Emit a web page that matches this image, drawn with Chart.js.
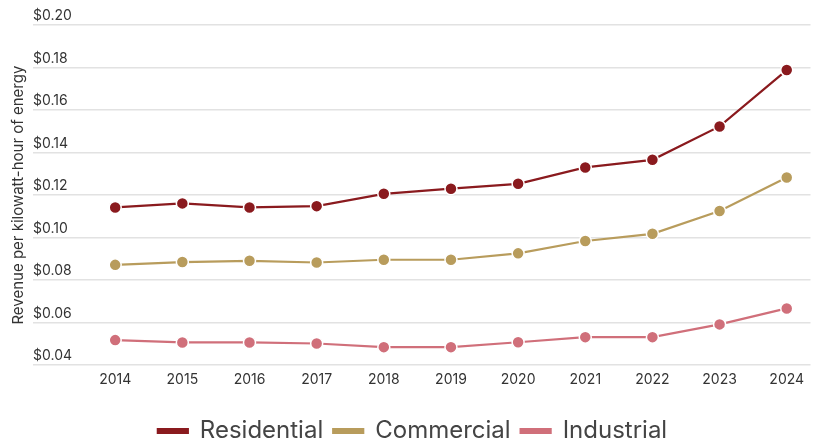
<!DOCTYPE html>
<html>
<head>
<meta charset="utf-8">
<script src="https://cdn.jsdelivr.net/npm/chart.js@4.4.1/dist/chart.umd.min.js"></script>
<style>
  html, body { margin: 0; padding: 0; background: #fff; }
  #wrap { width: 818px; height: 440px; }
</style>
</head>
<body>
<div id="wrap"><canvas id="lineChart" width="818" height="440"></canvas></div>
<script>
const years = [2014, 2015, 2016, 2017, 2018, 2019, 2020, 2021, 2022, 2023, 2024];
const residential = [0.1142, 0.1161, 0.1142, 0.1148, 0.1206, 0.1230, 0.1253, 0.1330, 0.1366, 0.1523, 0.1788];
const commercial = [0.0872, 0.0885, 0.0891, 0.0883, 0.0896, 0.0896, 0.0926, 0.0984, 0.1018, 0.1125, 0.1283];
const industrial = [0.0518, 0.0507, 0.0507, 0.0502, 0.0485, 0.0485, 0.0508, 0.0532, 0.0532, 0.0592, 0.0667];

const FONT = 'Inter, "Noto Sans", sans-serif';

function series(label, values, color) {
  return {
    label: label,
    data: values.map((v, i) => ({ x: years[i], y: v })),
    borderColor: color,
    backgroundColor: color,
    borderWidth: 2.2,
    pointRadius: 6,
    pointBorderColor: '#fff',
    pointBorderWidth: 1.5,
    pointBackgroundColor: color,
    tension: 0
  };
}

new Chart(document.getElementById('lineChart'), {
  type: 'line',
  data: {
    datasets: [
      series('Residential', residential, '#8a1a1e'),
      series('Commercial', commercial, '#b89c5c'),
      series('Industrial', industrial, '#d06f7a')
    ]
  },
  options: {
    responsive: false,
    animation: false,
    layout: { padding: { left: 7, right: 0, top: 25, bottom: -13 } },
    plugins: {
      tooltip: { enabled: false },
      legend: {
        position: 'bottom',
        labels: {
          boxWidth: 30,
          boxHeight: 4,
          padding: 10,
          color: '#444',
          font: { family: FONT, size: 24 }
        }
      }
    },
    scales: {
      x: {
        type: 'linear',
        min: 2012.776,
        max: 2024.354,
        afterBuildTicks: axis => { axis.ticks = years.map(y => ({ value: y })); },
        afterFit: axis => { axis.height += 15; },
        grid: { display: false, drawTicks: false },
        border: { display: false },
        ticks: {
          padding: 6,
          color: '#333',
          font: { family: FONT, size: 14 },
          callback: v => String(v)
        }
      },
      y: {
        min: 0.04,
        max: 0.20,
        ticks: {
          stepSize: 0.02,
          mirror: true,
          padding: 0,
          labelOffset: -9,
          color: '#333',
          font: { family: FONT, size: 14 },
          callback: v => '$' + v.toFixed(2)
        },
        grid: { color: '#e2e2e2', lineWidth: 1.5, drawTicks: false },
        border: { display: false },
        title: {
          display: true,
          text: 'Revenue per kilowatt-hour of energy',
          color: '#333',
          font: { family: FONT, size: 15 },
          padding: { top: 2, bottom: 6 }
        }
      }
    }
  }
});
</script>
</body>
</html>
